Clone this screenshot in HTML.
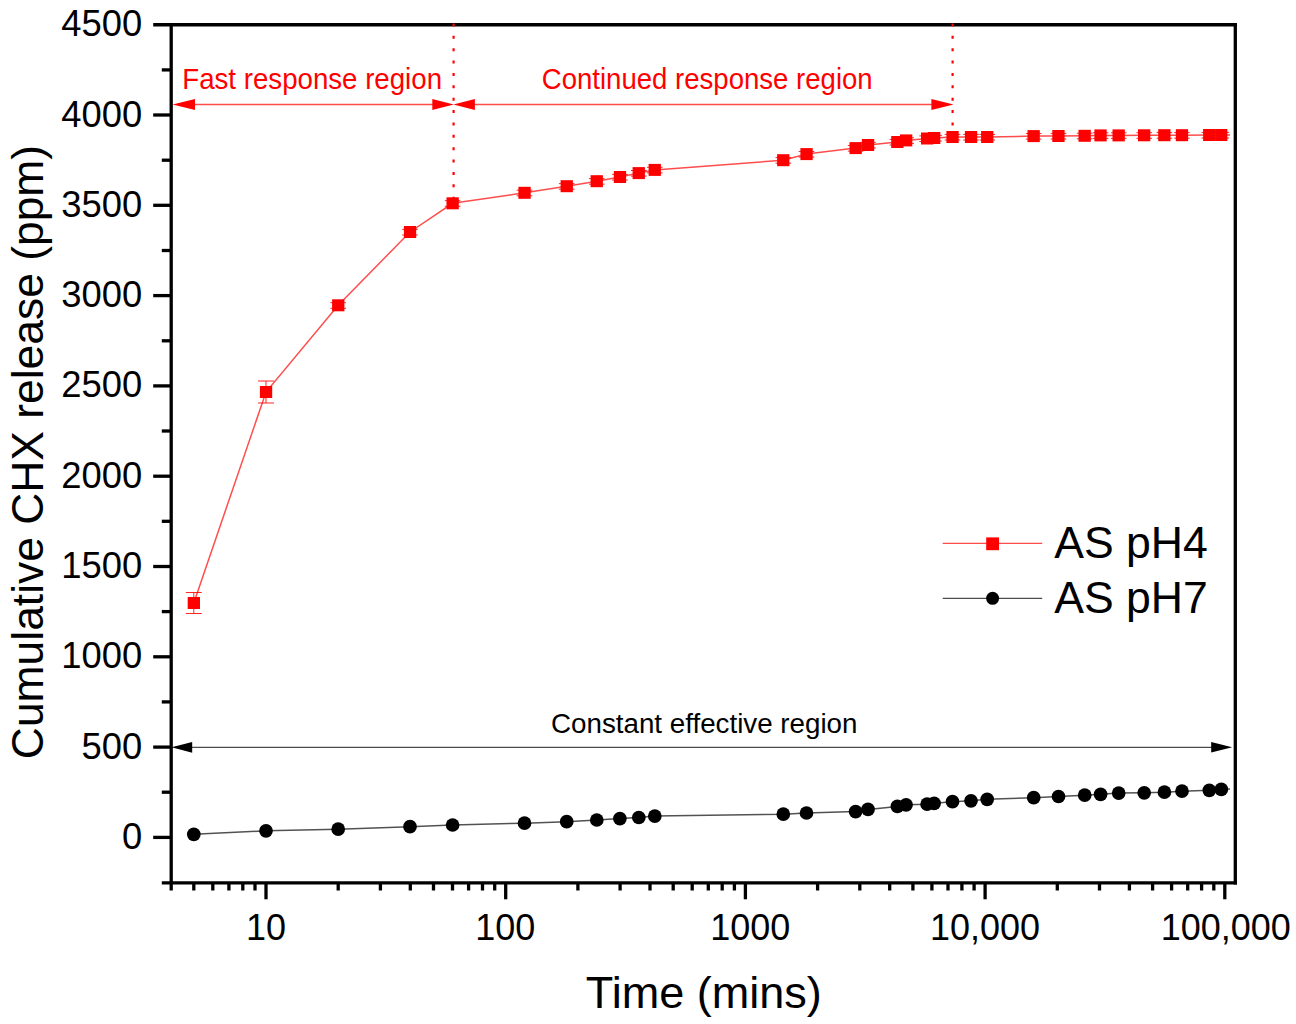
<!DOCTYPE html>
<html lang="en">
<head>
<meta charset="utf-8">
<title>Cumulative CHX release</title>
<style>
html,body{margin:0;padding:0;background:#ffffff;}
body{width:1296px;height:1024px;overflow:hidden;font-family:"Liberation Sans",sans-serif;}
svg{display:block;}
</style>
</head>
<body>
<svg width="1296" height="1024" viewBox="0 0 1296 1024">
<rect x="0" y="0" width="1296" height="1024" fill="#ffffff"/>
<polyline points="193.8,834.3 266.0,830.8 338.2,829.2 410.0,826.7 452.6,825.0 524.5,823.2 566.7,821.7 596.8,820.0 619.9,818.6 638.8,817.5 654.8,816.1 783.3,814.2 806.5,813.0 855.6,811.6 868.0,809.4 897.4,806.4 906.1,804.8 927.1,804.2 934.1,803.3 952.5,801.7 971.0,800.8 987.2,799.3 1033.7,797.7 1058.5,796.5 1084.7,795.2 1100.6,794.3 1118.7,793.1 1144.2,792.8 1164.4,792.2 1182.0,791.2 1209.3,790.3 1221.3,789.4 1230.0,789.0" fill="none" stroke="#000" stroke-width="1.5" stroke-opacity="0.68"/>
<polyline points="193.8,603.0 266.0,392.0 338.2,305.3 410.0,232.0 452.6,203.3 524.5,192.8 566.7,186.2 596.8,181.2 619.9,177.0 638.8,173.1 654.8,169.9 783.3,160.2 806.5,154.1 855.6,148.1 868.0,145.0 897.4,142.0 906.1,140.4 927.1,138.5 934.1,138.0 952.5,137.0 971.0,137.0 987.2,137.0 1033.7,136.1 1058.5,136.0 1084.7,135.8 1100.6,135.4 1118.7,135.4 1144.2,135.3 1164.4,135.2 1182.0,135.2 1209.3,135.0 1221.3,135.0 1230.0,135.0" fill="none" stroke="#ff0000" stroke-width="1.5" stroke-opacity="0.7"/>
<g stroke="#ff0000" stroke-width="0.85" fill="none">
<path d="M193.8,592.5V613.5M185.8,592.5H201.8M185.8,613.5H201.8"/>
<path d="M266.0,381.0V403.0M258.0,381.0H274.0M258.0,403.0H274.0"/>
<path d="M330.4,302.7H346.0M330.4,308.3H346.0"/>
<path d="M402.2,229.4H417.8M402.2,235.0H417.8"/>
<path d="M444.8,200.7H460.4M444.8,206.3H460.4"/>
<path d="M516.7,190.2H532.3M516.7,195.8H532.3"/>
<path d="M558.9,183.6H574.5M558.9,189.2H574.5"/>
<path d="M589.0,178.6H604.6M589.0,184.2H604.6"/>
<path d="M612.1,174.4H627.7M612.1,180.0H627.7"/>
<path d="M631.0,170.5H646.6M631.0,176.1H646.6"/>
<path d="M647.0,167.3H662.6M647.0,172.9H662.6"/>
<path d="M775.5,157.6H791.1M775.5,163.2H791.1"/>
<path d="M798.7,151.5H814.3M798.7,157.1H814.3"/>
<path d="M847.8,145.5H863.4M847.8,151.1H863.4"/>
<path d="M860.2,142.4H875.8M860.2,148.0H875.8"/>
<path d="M889.6,139.4H905.2M889.6,145.0H905.2"/>
<path d="M898.3,137.8H913.9M898.3,143.4H913.9"/>
<path d="M919.3,135.9H934.9M919.3,141.5H934.9"/>
<path d="M926.3,135.4H941.9M926.3,141.0H941.9"/>
<path d="M944.7,134.4H960.3M944.7,140.0H960.3"/>
<path d="M963.2,134.4H978.8M963.2,140.0H978.8"/>
<path d="M979.4,134.4H995.0M979.4,140.0H995.0"/>
<path d="M1025.9,133.5H1041.5M1025.9,139.1H1041.5"/>
<path d="M1050.7,133.4H1066.3M1050.7,139.0H1066.3"/>
<path d="M1076.9,133.2H1092.5M1076.9,138.8H1092.5"/>
<path d="M1092.8,132.8H1108.4M1092.8,138.4H1108.4"/>
<path d="M1110.9,132.8H1126.5M1110.9,138.4H1126.5"/>
<path d="M1136.4,132.7H1152.0M1136.4,138.3H1152.0"/>
<path d="M1156.6,132.6H1172.2M1156.6,138.2H1172.2"/>
<path d="M1174.2,132.6H1189.8M1174.2,138.2H1189.8"/>
<path d="M1201.5,132.4H1217.1M1201.5,138.0H1217.1"/>
<path d="M1213.5,132.4H1229.1M1213.5,138.0H1229.1"/>
</g>
<g fill="#ff0000">
<rect x="187.7" y="597.0" width="12.3" height="12.0"/>
<rect x="259.9" y="386.0" width="12.3" height="12.0"/>
<rect x="332.1" y="299.3" width="12.3" height="12.0"/>
<rect x="403.9" y="226.0" width="12.3" height="12.0"/>
<rect x="446.5" y="197.3" width="12.3" height="12.0"/>
<rect x="518.4" y="186.8" width="12.3" height="12.0"/>
<rect x="560.6" y="180.2" width="12.3" height="12.0"/>
<rect x="590.6" y="175.2" width="12.3" height="12.0"/>
<rect x="613.8" y="171.0" width="12.3" height="12.0"/>
<rect x="632.6" y="167.1" width="12.3" height="12.0"/>
<rect x="648.6" y="163.9" width="12.3" height="12.0"/>
<rect x="777.1" y="154.2" width="12.3" height="12.0"/>
<rect x="800.4" y="148.1" width="12.3" height="12.0"/>
<rect x="849.5" y="142.1" width="12.3" height="12.0"/>
<rect x="861.9" y="139.0" width="12.3" height="12.0"/>
<rect x="891.2" y="136.0" width="12.3" height="12.0"/>
<rect x="900.0" y="134.4" width="12.3" height="12.0"/>
<rect x="921.0" y="132.5" width="12.3" height="12.0"/>
<rect x="928.0" y="132.0" width="12.3" height="12.0"/>
<rect x="946.4" y="131.0" width="12.3" height="12.0"/>
<rect x="964.9" y="131.0" width="12.3" height="12.0"/>
<rect x="981.1" y="131.0" width="12.3" height="12.0"/>
<rect x="1027.5" y="130.1" width="12.3" height="12.0"/>
<rect x="1052.3" y="130.0" width="12.3" height="12.0"/>
<rect x="1078.5" y="129.8" width="12.3" height="12.0"/>
<rect x="1094.4" y="129.4" width="12.3" height="12.0"/>
<rect x="1112.5" y="129.4" width="12.3" height="12.0"/>
<rect x="1138.0" y="129.3" width="12.3" height="12.0"/>
<rect x="1158.2" y="129.2" width="12.3" height="12.0"/>
<rect x="1175.8" y="129.2" width="12.3" height="12.0"/>
<rect x="1203.1" y="129.0" width="12.3" height="12.0"/>
<rect x="1215.1" y="129.0" width="12.3" height="12.0"/>
</g>
<g fill="#000000">
<circle cx="193.8" cy="834.3" r="6.85"/>
<circle cx="266.0" cy="830.8" r="6.85"/>
<circle cx="338.2" cy="829.2" r="6.85"/>
<circle cx="410.0" cy="826.7" r="6.85"/>
<circle cx="452.6" cy="825.0" r="6.85"/>
<circle cx="524.5" cy="823.2" r="6.85"/>
<circle cx="566.7" cy="821.7" r="6.85"/>
<circle cx="596.8" cy="820.0" r="6.85"/>
<circle cx="619.9" cy="818.6" r="6.85"/>
<circle cx="638.8" cy="817.5" r="6.85"/>
<circle cx="654.8" cy="816.1" r="6.85"/>
<circle cx="783.3" cy="814.2" r="6.85"/>
<circle cx="806.5" cy="813.0" r="6.85"/>
<circle cx="855.6" cy="811.6" r="6.85"/>
<circle cx="868.0" cy="809.4" r="6.85"/>
<circle cx="897.4" cy="806.4" r="6.85"/>
<circle cx="906.1" cy="804.8" r="6.85"/>
<circle cx="927.1" cy="804.2" r="6.85"/>
<circle cx="934.1" cy="803.3" r="6.85"/>
<circle cx="952.5" cy="801.7" r="6.85"/>
<circle cx="971.0" cy="800.8" r="6.85"/>
<circle cx="987.2" cy="799.3" r="6.85"/>
<circle cx="1033.7" cy="797.7" r="6.85"/>
<circle cx="1058.5" cy="796.5" r="6.85"/>
<circle cx="1084.7" cy="795.2" r="6.85"/>
<circle cx="1100.6" cy="794.3" r="6.85"/>
<circle cx="1118.7" cy="793.1" r="6.85"/>
<circle cx="1144.2" cy="792.8" r="6.85"/>
<circle cx="1164.4" cy="792.2" r="6.85"/>
<circle cx="1182.0" cy="791.2" r="6.85"/>
<circle cx="1209.3" cy="790.3" r="6.85"/>
<circle cx="1221.3" cy="789.4" r="6.85"/>
</g>
<g stroke="#ff0000" stroke-width="1.4" stroke-opacity="0.7" fill="#ff0000">
<path d="M180,104.5H446" fill="none"/>
<path d="M460,104.5H945" fill="none"/>
</g>
<g fill="#ff0000">
<path d="M172.6,104.5L195.0,98.9L195.0,110.1Z"/>
<path d="M453.8,104.5L432.3,98.9L432.3,110.1Z"/>
<path d="M453.4,104.5L474.9,98.9L474.9,110.1Z"/>
<path d="M953.6,104.5L931.4,99.1L931.4,109.9Z"/>
</g>
<text transform="translate(312.15,88.5) scale(0.967,1)" text-anchor="middle" font-family="Liberation Sans, sans-serif" font-size="28.6" fill="#ff0000">Fast response region</text>
<text transform="translate(707.2,88.5) scale(0.964,1)" text-anchor="middle" font-family="Liberation Sans, sans-serif" font-size="28.6" fill="#ff0000">Continued response region</text>
<path d="M185,747.4H1220" fill="none" stroke="#000" stroke-width="1.4" stroke-opacity="0.7"/>
<g fill="#000000">
<path d="M171.6,747.3L192.2,741.9L192.2,752.7Z"/>
<path d="M1232.2,747.3L1211.2,742.1L1211.2,752.5Z"/>
</g>
<text x="704.25" y="732.5" text-anchor="middle" font-family="Liberation Sans, sans-serif" font-size="27.75" fill="#000000">Constant effective region</text>
<path d="M942.7,543.4H1042.2" stroke="#ff0000" stroke-width="1.4" stroke-opacity="0.7" fill="none"/>
<rect x="986.2" y="537.4" width="12.8" height="12.8" fill="#ff0000"/>
<path d="M942.7,598.4H1042.2" stroke="#000" stroke-width="1.4" stroke-opacity="0.7" fill="none"/>
<circle cx="992.6" cy="598.3" r="6.5" fill="#000000"/>
<text transform="translate(1054.2,558.4) scale(1.013,1)" font-family="Liberation Sans, sans-serif" font-size="44" fill="#000000">AS pH4</text>
<text transform="translate(1054.2,613.2) scale(1.013,1)" font-family="Liberation Sans, sans-serif" font-size="44" fill="#000000">AS pH7</text>
<g stroke="#000000" stroke-width="3.3" fill="none" stroke-linecap="butt">
<path d="M153.2,24.75H1237.0"/>
<path d="M161.8,882.8H1237.0"/>
<path d="M171.2,23.1V890.5"/>
<path d="M1235.3,23.1V884.4"/>
<path d="M153.2,837.4H171.2"/>
<path d="M161.8,792.2H171.2"/>
<path d="M153.2,747.1H171.2"/>
<path d="M161.8,701.9H171.2"/>
<path d="M153.2,656.8H171.2"/>
<path d="M161.8,611.6H171.2"/>
<path d="M153.2,566.5H171.2"/>
<path d="M161.8,521.3H171.2"/>
<path d="M153.2,476.2H171.2"/>
<path d="M161.8,431.0H171.2"/>
<path d="M153.2,385.9H171.2"/>
<path d="M161.8,340.8H171.2"/>
<path d="M153.2,295.6H171.2"/>
<path d="M161.8,250.5H171.2"/>
<path d="M153.2,205.3H171.2"/>
<path d="M161.8,160.2H171.2"/>
<path d="M153.2,115.0H171.2"/>
<path d="M161.8,69.9H171.2"/>
<path d="M193.8,882.8V890.5"/>
<path d="M212.8,882.8V890.5"/>
<path d="M228.9,882.8V890.5"/>
<path d="M242.8,882.8V890.5"/>
<path d="M255.0,882.8V890.5"/>
<path d="M266.0,882.8V899.3"/>
<path d="M338.2,882.8V890.5"/>
<path d="M380.4,882.8V890.5"/>
<path d="M410.3,882.8V890.5"/>
<path d="M433.5,882.8V890.5"/>
<path d="M452.5,882.8V890.5"/>
<path d="M468.6,882.8V890.5"/>
<path d="M482.5,882.8V890.5"/>
<path d="M494.7,882.8V890.5"/>
<path d="M505.7,882.8V899.3"/>
<path d="M577.9,882.8V890.5"/>
<path d="M620.1,882.8V890.5"/>
<path d="M650.0,882.8V890.5"/>
<path d="M673.2,882.8V890.5"/>
<path d="M692.2,882.8V890.5"/>
<path d="M708.3,882.8V890.5"/>
<path d="M722.2,882.8V890.5"/>
<path d="M734.4,882.8V890.5"/>
<path d="M745.4,882.8V899.3"/>
<path d="M817.6,882.8V890.5"/>
<path d="M859.8,882.8V890.5"/>
<path d="M889.7,882.8V890.5"/>
<path d="M912.9,882.8V890.5"/>
<path d="M931.9,882.8V890.5"/>
<path d="M948.0,882.8V890.5"/>
<path d="M961.9,882.8V890.5"/>
<path d="M974.1,882.8V890.5"/>
<path d="M985.1,882.8V899.3"/>
<path d="M1057.3,882.8V890.5"/>
<path d="M1099.5,882.8V890.5"/>
<path d="M1129.4,882.8V890.5"/>
<path d="M1152.6,882.8V890.5"/>
<path d="M1171.6,882.8V890.5"/>
<path d="M1187.7,882.8V890.5"/>
<path d="M1201.6,882.8V890.5"/>
<path d="M1213.8,882.8V890.5"/>
<path d="M1224.8,882.8V899.3"/>
</g>
<g stroke="#ff0000" stroke-width="2.2" stroke-dasharray="3 9.37" fill="none">
<path d="M453.6,23.5V198"/>
<path d="M952.6,23.5V132"/>
</g>
<g font-family="Liberation Sans, sans-serif" font-size="36.4" fill="#000000">
<text x="142.2" y="848.9" text-anchor="end">0</text>
<text x="142.2" y="758.6" text-anchor="end">500</text>
<text x="142.2" y="668.3" text-anchor="end">1000</text>
<text x="142.2" y="578.0" text-anchor="end">1500</text>
<text x="142.2" y="487.7" text-anchor="end">2000</text>
<text x="142.2" y="397.4" text-anchor="end">2500</text>
<text x="142.2" y="307.1" text-anchor="end">3000</text>
<text x="142.2" y="216.8" text-anchor="end">3500</text>
<text x="142.2" y="126.5" text-anchor="end">4000</text>
<text x="142.2" y="36.2" text-anchor="end">4500</text>
</g>
<g font-family="Liberation Sans, sans-serif" font-size="36" fill="#000000">
<text x="266.0" y="939.6" text-anchor="middle">10</text>
<text x="505.2" y="939.6" text-anchor="middle">100</text>
<text x="750.2" y="939.6" text-anchor="middle">1000</text>
<text x="985.0" y="939.6" text-anchor="middle">10,000</text>
<text x="1225.8" y="939.6" text-anchor="middle">100,000</text>
</g>
<text transform="translate(703.8,1007.6) scale(1.024,1)" text-anchor="middle" font-family="Liberation Sans, sans-serif" font-size="44" fill="#000000">Time (mins)</text>
<text transform="translate(43.0,452.0) rotate(-90)" text-anchor="middle" font-family="Liberation Sans, sans-serif" font-size="44.4" fill="#000000">Cumulative CHX release (ppm)</text>
</svg>
</body>
</html>
